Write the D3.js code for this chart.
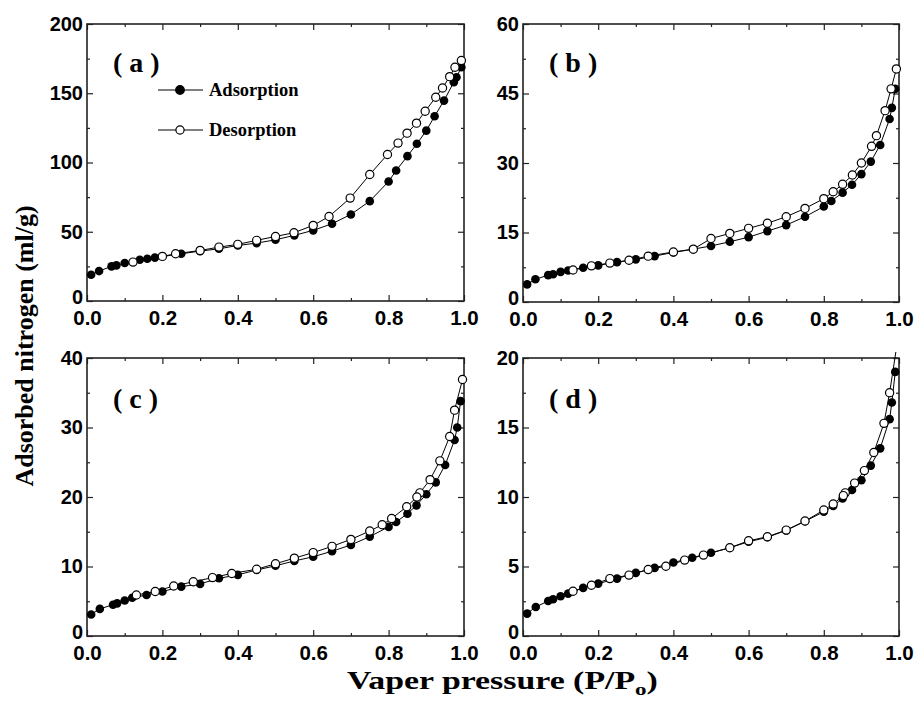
<!DOCTYPE html>
<html>
<head>
<meta charset="utf-8">
<script src="https://cdn.jsdelivr.net/npm/d3@7"></script>
<style>
body { margin: 0; background: #fff; }
.tick line { stroke: #222; }
</style>
</head>
<body>
<svg width="916" height="705"></svg>
<script>
// isotherm data, [P/Po, volume]
var adsA = [[0.011,19],[0.032,21.6],[0.065,25],[0.078,25.7],[0.10,27.4],[0.14,29.8],[0.16,30.5],[0.18,31.3],[0.25,34.1],[0.30,36],[0.35,37.7],[0.40,40.1],[0.45,41.8],[0.50,44.2],[0.55,47.4],[0.60,51],[0.65,55.8],[0.70,62.5],[0.75,72.1],[0.80,86.3],[0.82,94.2],[0.85,104.6],[0.875,113.5],[0.90,123],[0.922,133.4],[0.947,144.7],[0.973,158],[0.98,161.5],[0.993,168.8]]
var desA = [[0.993,173.6],[0.976,168.8],[0.962,162],[0.943,153.8],[0.925,147.1],[0.897,137],[0.874,128.4],[0.849,121.2],[0.825,114],[0.797,105.8],[0.75,91.3],[0.698,74.3],[0.642,61],[0.60,54.6],[0.549,49.3],[0.50,46.6],[0.45,43.8],[0.40,40.9],[0.35,38.9],[0.30,36.5],[0.235,34.1],[0.20,32.2],[0.122,28.1]]

var adsB = [[0.011,3.8],[0.033,4.9],[0.067,5.8],[0.08,6.0],[0.10,6.5],[0.12,6.8],[0.16,7.4],[0.20,7.9],[0.25,8.6],[0.30,9.2],[0.35,9.9],[0.40,10.7],[0.453,11.4],[0.50,12.1],[0.55,13],[0.60,14],[0.65,15.3],[0.70,16.6],[0.75,18.4],[0.80,20.6],[0.82,21.8],[0.85,23.6],[0.875,25.3],[0.90,27.6],[0.925,30.3],[0.95,33.9],[0.975,39.5],[0.981,41.9],[0.99,46]]
var desB = [[0.993,50.3],[0.979,46],[0.963,41.3],[0.94,35.9],[0.927,33.6],[0.90,30],[0.876,27.4],[0.85,25.4],[0.825,23.8],[0.80,22.3],[0.75,20.2],[0.70,18.4],[0.65,17],[0.60,15.9],[0.55,14.8],[0.50,13.7],[0.453,11.4],[0.40,10.8],[0.333,9.9],[0.282,9.0],[0.231,8.4],[0.182,7.8],[0.133,6.9]]

var adsC = [[0.011,3.1],[0.034,3.9],[0.069,4.5],[0.08,4.7],[0.10,5.1],[0.12,5.5],[0.158,5.9],[0.20,6.4],[0.25,7.1],[0.30,7.5],[0.35,8.3],[0.40,8.8],[0.45,9.5],[0.50,10.1],[0.55,10.8],[0.60,11.4],[0.65,12.2],[0.70,13.1],[0.75,14.3],[0.80,15.7],[0.82,16.4],[0.85,17.6],[0.874,18.8],[0.90,20.4],[0.925,22.1],[0.95,24.6],[0.975,28.2],[0.982,30],[0.991,33.8]]
var desC = [[0.996,36.9],[0.975,32.5],[0.962,28.7],[0.936,25.2],[0.91,22.5],[0.883,20.6],[0.875,20.0],[0.848,18.6],[0.808,16.9],[0.783,16.0],[0.75,15.1],[0.70,13.9],[0.65,12.9],[0.60,12.0],[0.55,11.2],[0.50,10.4],[0.45,9.6],[0.384,9.0],[0.333,8.4],[0.282,7.8],[0.23,7.2],[0.181,6.4],[0.131,5.9]]

var adsD = [[0.011,1.61],[0.034,2.09],[0.067,2.52],[0.08,2.64],[0.10,2.86],[0.12,3.05],[0.16,3.46],[0.20,3.77],[0.25,4.13],[0.30,4.54],[0.35,4.9],[0.40,5.29],[0.45,5.63],[0.50,5.99],[0.55,6.35],[0.60,6.78],[0.65,7.1],[0.70,7.6],[0.75,8.25],[0.80,8.94],[0.825,9.35],[0.85,9.9],[0.875,10.5],[0.90,11.2],[0.925,12.26],[0.95,13.5],[0.975,15.6],[0.981,16.8],[0.99,19.0]]
var desD = [[0.996,21.2],[0.975,17.5],[0.96,15.3],[0.933,13.2],[0.908,11.9],[0.882,11.0],[0.857,10.3],[0.852,10.1],[0.825,9.5],[0.80,9.06],[0.75,8.27],[0.70,7.62],[0.65,7.14],[0.60,6.85],[0.55,6.35],[0.48,5.82],[0.43,5.46],[0.38,5.02],[0.333,4.78],[0.282,4.38],[0.231,4.13],[0.182,3.65],[0.133,3.22]]

var xMajor = [0, 0.2, 0.4, 0.6, 0.8, 1.0]
var xMinor = [0.1, 0.3, 0.5, 0.7, 0.9]
var yMaxes = [200, 60, 40, 20]
var ySteps = [50, 15, 10, 5]
var panelLabels = ["( a )", "( b )", "( c )", "( d )"]
var legendNames = ["Adsorption", "Desorption"]

var panels = [
	{left: 87, top: 24, right: 464, bottom: 301, ads: adsA, des: desA},
	{left: 523, top: 24, right: 899, bottom: 302, ads: adsB, des: desB},
	{left: 87, top: 358, right: 464, bottom: 636, ads: adsC, des: desC},
	{left: 523, top: 358, right: 899, bottom: 636, ads: adsD, des: desD}
]

var svg = d3.select("svg")
var sans = "'Liberation Sans', Arial, sans-serif"
var serif = "'Liberation Serif', 'Times New Roman', serif"

panels.forEach(function(p, i) {
	var w = p.right - p.left, h = p.bottom - p.top
	var x = d3.scaleLinear().domain([0, 1]).range([0, w])
	var y = d3.scaleLinear().domain([0, yMaxes[i]]).range([h, 0])
	var yMajor = d3.range(0, yMaxes[i] + 0.001, ySteps[i])
	var yMinor = d3.range(ySteps[i] / 2, yMaxes[i], ySteps[i])

	var g = svg.append("g").attr("transform", "translate(" + p.left + "," + p.top + ")")

	g.append("clipPath").attr("id", "clip" + i)
		.append("rect").attr("x", -6).attr("y", -6).attr("width", w + 12).attr("height", h + 12)

	// ticks, all inward
	g.append("g").attr("transform", "translate(0," + h + ")")
		.call(d3.axisBottom(x).tickValues(xMajor).tickSize(-6).tickPadding(9).tickFormat(d3.format(".1f")))
		.call(s => s.selectAll("text").style("font", "bold 20.5px " + sans).attr("fill", "#000"))
	g.append("g").attr("transform", "translate(0," + h + ")")
		.call(d3.axisBottom(x).tickValues(xMinor).tickSize(-3).tickFormat(""))
	g.append("g").call(d3.axisTop(x).tickValues(xMajor).tickSize(-6).tickFormat(""))
	g.append("g").call(d3.axisTop(x).tickValues(xMinor).tickSize(-3).tickFormat(""))

	g.append("g")
		.call(d3.axisLeft(y).tickValues(yMajor).tickSize(-6).tickPadding(4).tickFormat(d3.format("d")))
		.call(s => s.selectAll("text").style("font", "bold 20px " + sans).attr("fill", "#000"))
		.call(s => s.selectAll(".tick").filter(d => d == 0).select("text").attr("dy", "0.1em"))
	g.append("g").call(d3.axisLeft(y).tickValues(yMinor).tickSize(-3).tickFormat(""))
	g.append("g").attr("transform", "translate(" + w + ",0)")
		.call(d3.axisRight(y).tickValues(yMajor).tickSize(-6).tickFormat(""))
	g.append("g").attr("transform", "translate(" + w + ",0)")
		.call(d3.axisRight(y).tickValues(yMinor).tickSize(-3).tickFormat(""))

	g.selectAll(".domain").remove()
	g.selectAll(".tick line").attr("stroke", "#222").attr("stroke-width", 1.2)

	g.append("rect").attr("width", w).attr("height", h)
		.attr("fill", "none").attr("stroke", "#222").attr("stroke-width", 1.6)

	var line = d3.line().x(d => x(d[0])).y(d => y(d[1]))
	var data = g.append("g").attr("clip-path", "url(#clip" + i + ")")

	data.append("path").datum(p.ads).attr("d", line)
		.attr("fill", "none").attr("stroke", "#000").attr("stroke-width", 1)
	data.append("path").datum(p.des).attr("d", line)
		.attr("fill", "none").attr("stroke", "#000").attr("stroke-width", 1)

	data.selectAll("circle.ads").data(p.ads).enter().append("circle")
		.attr("class", "ads")
		.attr("cx", d => x(d[0])).attr("cy", d => y(d[1])).attr("r", 4.3)
		.attr("fill", "#000")
	data.selectAll("circle.des").data(p.des).enter().append("circle")
		.attr("class", "des")
		.attr("cx", d => x(d[0])).attr("cy", d => y(d[1])).attr("r", 4.1)
		.attr("fill", "#fff").attr("stroke", "#000").attr("stroke-width", 1.2)

	g.append("text").attr("x", 26).attr("y", i < 2 ? 48 : 50)
		.text(panelLabels[i])
		.style("font", "bold 28px " + serif)

	if (i == 0) {
		var lg = g.append("g")
		legendNames.forEach(function(name, k) {
			var ly = 66 + k * 40
			lg.append("line").attr("x1", 71).attr("x2", 116).attr("y1", ly).attr("y2", ly)
				.attr("stroke", "#000").attr("stroke-width", 1)
			lg.append("circle").attr("cx", 93).attr("cy", ly).attr("r", k == 0 ? 4.3 : 4.1)
				.attr("fill", k == 0 ? "#000" : "#fff").attr("stroke", "#000").attr("stroke-width", 1.2)
			lg.append("text").attr("x", 122).attr("y", ly + 6).text(name)
				.style("font", "bold 18.5px " + serif)
		})
	}
})

svg.append("text")
	.attr("transform", "translate(33,346) rotate(-90)")
	.style("text-anchor", "middle")
	.style("font", "bold 26px " + serif)
	.text("Adsorbed nitrogen (ml/g)")

// x title: wider in the figure than the font gives, so stretch it horizontally
var xt = svg.append("text")
	.style("font", "bold 25px " + serif)
xt.append("tspan").text("Vaper pressure (P/P")
xt.append("tspan").attr("dy", 6).style("font-size", "17px").text("o")
xt.append("tspan").attr("dy", -6).text(")")
var tw = xt.node().getBBox().width
xt.attr("transform", "translate(347,689) scale(" + (311 / tw) + ",1)")
</script>
</body>
</html>
